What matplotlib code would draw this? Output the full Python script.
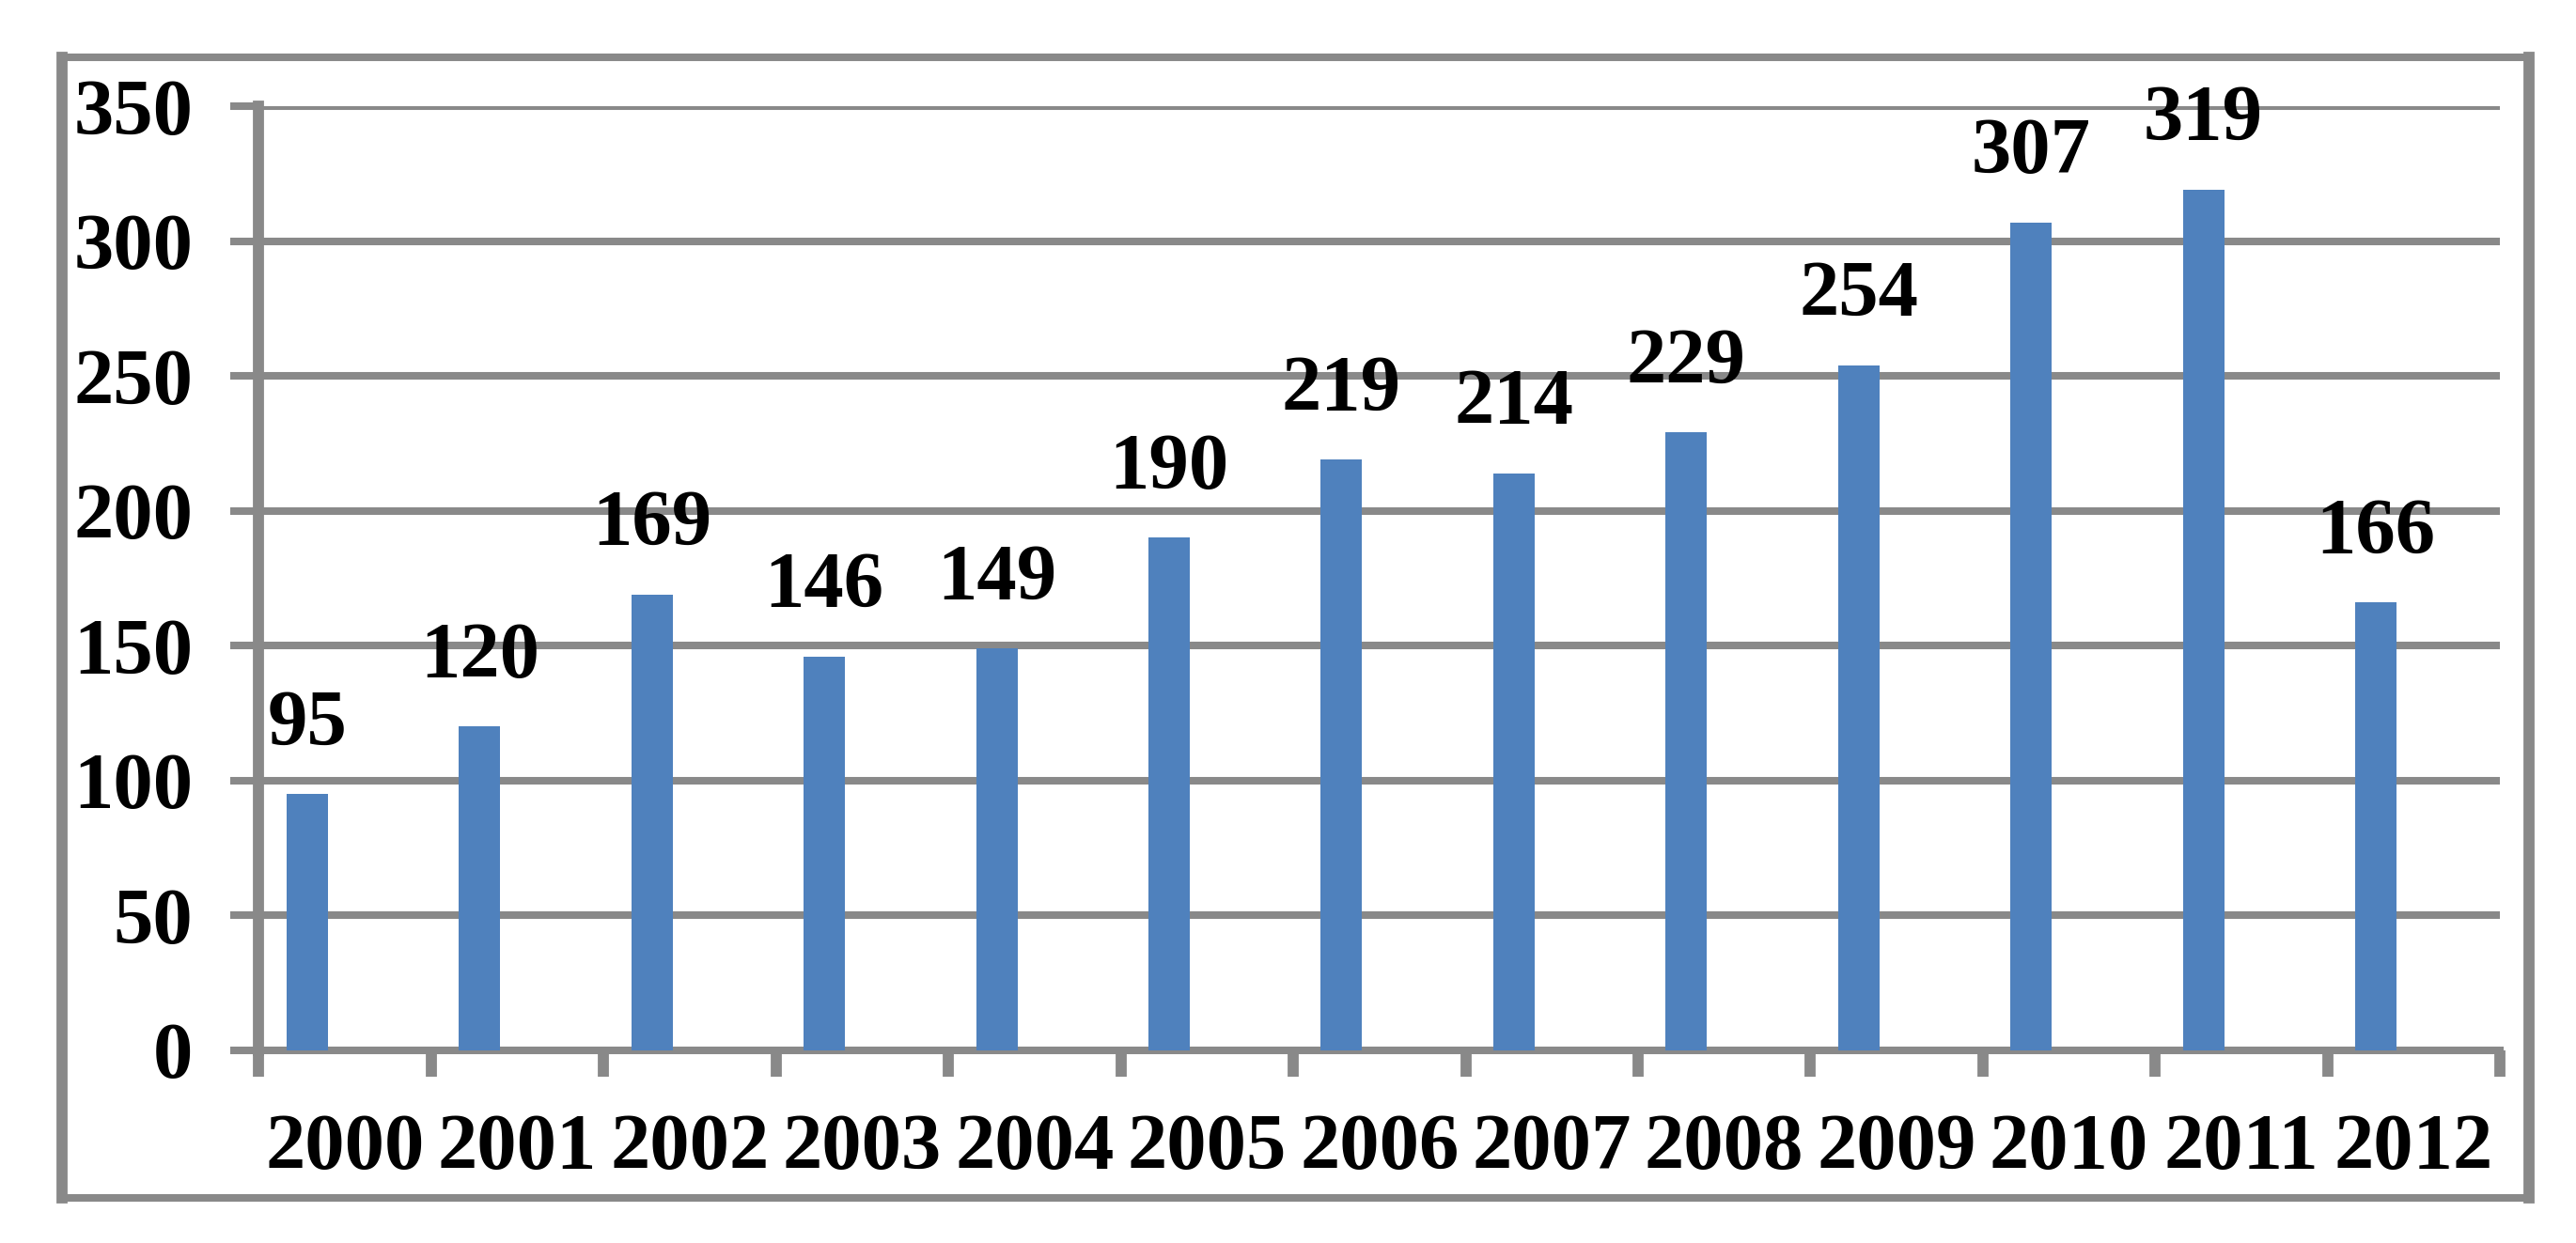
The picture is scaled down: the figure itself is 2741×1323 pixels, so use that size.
"""Yearly counts, 2000-2012, as an Excel-style column chart."""
import matplotlib
matplotlib.use("Agg")
import matplotlib.pyplot as plt
from matplotlib.lines import Line2D

years = ["2000", "2001", "2002", "2003", "2004", "2005", "2006",
         "2007", "2008", "2009", "2010", "2011", "2012"]
counts = [95, 120, 169, 146, 149, 190, 219, 214, 229, 254, 307, 319, 166]
y_ticks = [0, 50, 100, 150, 200, 250, 300, 350]

GRAY = "#898989"
BLUE = "#4f81bd"
LW_H = 5.8   # horizontal strokes (gridlines, x axis)
LW_V = 8.5   # vertical strokes (y axis, x ticks)

plt.rcParams["font.family"] = ["Liberation Serif", "DejaVu Serif"]
plt.rcParams["font.weight"] = "bold"

fig = plt.figure(figsize=(27.41, 13.23), dpi=100)
ax = fig.add_axes([0.1005, 0.155, 0.870, 0.7595])

# bars sit left of the category centre, as in the source chart
pos = [i + 0.28 for i in range(len(years))]
ax.bar(pos, counts, width=0.24, color=BLUE, linewidth=0, zorder=3)

for x, v in zip(pos, counts):
    ax.annotate(str(v), (x, v), xytext=(0, 38), textcoords="offset points",
                ha="center", va="baseline", fontsize=61, fontweight="bold",
                zorder=4)

ax.set_xlim(0, len(years))
ax.set_ylim(0, 350)
ax.set_yticks(y_ticks)
ax.set_yticklabels([str(t) for t in y_ticks])
ax.set_xticks(range(len(years) + 1))
ax.set_xticklabels([])
ax.set_xticks([i + 0.5 for i in range(len(years))], minor=True)
ax.set_xticklabels(years, minor=True)

ax.tick_params(axis="y", which="major", direction="out", length=21.6,
               width=LW_H, color=GRAY, pad=29, labelsize=61)
ax.tick_params(axis="x", which="major", direction="out", length=20,
               width=LW_V, color=GRAY)
ax.tick_params(axis="x", which="minor", length=0, pad=48, labelsize=61)
for lab in ax.get_xticklabels(minor=True) + ax.get_yticklabels():
    lab.set_fontweight("bold")

ax.grid(axis="y", color=GRAY, linewidth=LW_H)
for gl in ax.get_ygridlines():
    gl.set_linewidth(LW_H)
    gl.set_color(GRAY)
ax.set_axisbelow(True)
for side in ("top", "right"):
    ax.spines[side].set_visible(False)
ax.spines["left"].set_color(GRAY)
ax.spines["left"].set_linewidth(LW_V)
ax.spines["bottom"].set_color(GRAY)
ax.spines["bottom"].set_linewidth(LW_H)

# outer chart-area border
bl, br, bb, bt = 0.0241, 0.9818, 0.0363, 0.9539
for xs, ys, w in [((bl, br), (bt, bt), LW_H), ((bl, br), (bb, bb), LW_H),
                  ((bl, bl), (bb, bt), LW_V), ((br, br), (bb, bt), LW_V)]:
    fig.add_artist(Line2D(xs, ys, transform=fig.transFigure, color=GRAY,
                          linewidth=w, solid_capstyle="projecting"))

fig.savefig("out.png", dpi=100)
plt.close(fig)
